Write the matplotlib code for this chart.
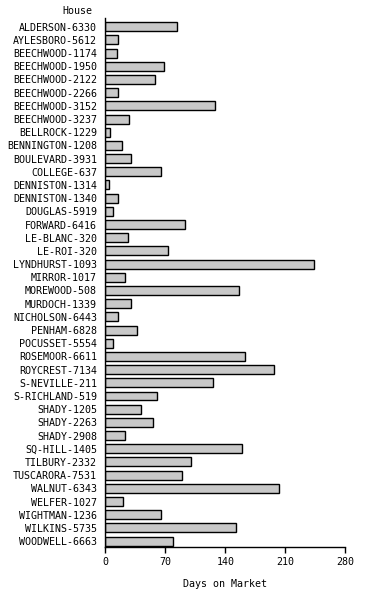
import matplotlib.pyplot as plt

# Casas y días en el mercado
houses = [
    "ALDERSON-6330", "AYLESBORO-5612", "BEECHWOOD-1174", "BEECHWOOD-1950",
    "BEECHWOOD-2122", "BEECHWOOD-2266", "BEECHWOOD-3152", "BEECHWOOD-3237",
    "BELLROCK-1229", "BENNINGTON-1208", "BOULEVARD-3931", "COLLEGE-637",
    "DENNISTON-1314", "DENNISTON-1340", "DOUGLAS-5919", "FORWARD-6416",
    "LE-BLANC-320", "LE-ROI-320", "LYNDHURST-1093", "MIRROR-1017",
    "MOREWOOD-508", "MURDOCH-1339", "NICHOLSON-6443", "PENHAM-6828",
    "POCUSSET-5554", "ROSEMOOR-6611", "ROYCREST-7134", "S-NEVILLE-211",
    "S-RICHLAND-519", "SHADY-1205", "SHADY-2263", "SHADY-2908",
    "SQ-HILL-1405", "TILBURY-2332", "TUSCARORA-7531", "WALNUT-6343",
    "WELFER-1027", "WIGHTMAN-1236", "WILKINS-5735", "WOODWELL-6663",
]
days = [
    84, 15, 14, 69, 58, 15, 128, 28, 6, 19,
    30, 65, 4, 15, 9, 93, 27, 73, 244, 23,
    156, 30, 15, 37, 9, 163, 197, 126, 60, 42,
    56, 23, 160, 100, 89, 203, 21, 65, 152, 79,
]
xticks = [0, 70, 140, 210, 280]

plt.rcParams['font.family'] = ['DejaVu Sans Mono']

fig = plt.figure(figsize=(3.67, 6.0), dpi=100)
ax = fig.add_axes([0.287, 0.0883, 0.654, 0.8817])

pos = list(range(len(houses)))
ax.barh(pos, days, height=0.68, color='#c8c8c8', edgecolor='black', linewidth=1.0)

ax.set_ylim(len(houses) - 1 + 0.45, -0.66)
ax.set_xlim(0, 280)
ax.set_yticks(pos)
ax.set_yticklabels(houses, fontsize=7.2)
ax.set_xticks(xticks)
ax.set_xticklabels([str(t) for t in xticks], fontsize=7.2)
ax.tick_params(axis='y', length=0, pad=6)
ax.tick_params(axis='x', length=4, width=1, direction='out', pad=3)

for s in ['top', 'right']:
    ax.spines[s].set_visible(False)
for s in ['left', 'bottom']:
    ax.spines[s].set_linewidth(1.0)

ax.set_xlabel('Days on Market', fontsize=7.2, labelpad=9)
fig.text(0.212, 0.982, 'House', fontsize=7.2, ha='center', va='center')

fig.savefig('out.png', dpi=100)
